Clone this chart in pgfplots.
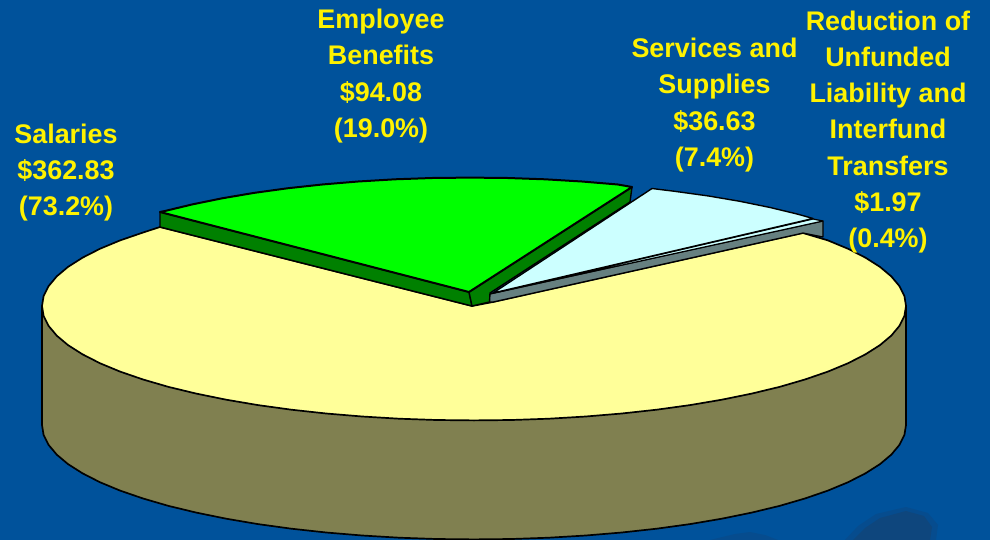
\documentclass[border=0pt]{standalone}
\usepackage{fontspec}
\setmainfont{Liberation Sans}
\usepackage{pgfplots}
\pgfplotsset{compat=1.18}
\definecolor{bg}{RGB}{0,82,155}
\definecolor{blobA}{RGB}{6,76,142}
\definecolor{blobB}{RGB}{14,70,125}
\definecolor{cYel}{RGB}{255,255,153}
\definecolor{cOli}{RGB}{128,128,80}
\definecolor{cGrn}{RGB}{0,255,0}
\definecolor{cDGr}{RGB}{0,128,0}
\definecolor{cBlu}{RGB}{204,255,255}
\definecolor{cGry}{RGB}{102,128,128}
\tikzset{lbl/.style={text=yellow,align=center,anchor=center,inner sep=0pt,
    font=\fontsize{26.9}{36.1}\selectfont\bfseries}}
\begin{document}
\begin{tikzpicture}
\begin{axis}[
  width=990pt,height=540pt,scale only axis,
  xmin=0,xmax=990,ymin=0,ymax=540,y dir=reverse,
  hide axis,clip=true,
  every axis plot/.append style={line join=round,mark=none},
]
% background
\addplot[fill=bg,draw=none] coordinates {(0,0)(990,0)(990,540)(0,540)} -- cycle;
\addplot[fill=blobA,draw=none] coordinates {(845,540)(858,526)(876,514)(906,507)(928,513)(938,525)(936,540)} -- cycle;
\addplot[fill=blobB,draw=none] coordinates {(853,540)(865,528)(880,518)(906,511)(924,516)(932,527)(930,540)} -- cycle;
\addplot[fill=blobA,draw=none] coordinates {(710,540)(735,534)(750,532)(765,535)(778,540)} -- cycle;
% side wall of the large slice
\addplot[fill=cOli,draw=black,line width=1.7pt] coordinates {
 (42,306)(42,425)(43.6,435)(48.6,444.9)(56.7,454.6)(68,464.1)(82.5,473.3)(99.9,482.2)(120.1,490.6)(143.1,498.5)(168.5,505.9)(196.3,512.6)(226.2,518.7)(258,524.1)(291.4,528.7)(326.2,532.5)(362.2,535.5)(399,537.7)(436.3,539)(474,539.4)(511.7,539)(549,537.7)(585.8,535.5)(621.8,532.5)(656.6,528.7)(690,524.1)(721.8,518.7)(751.7,512.6)(779.5,505.9)(804.9,498.5)(827.9,490.6)(848.1,482.2)(865.5,473.3)(880,464.1)(891.3,454.6)(899.4,444.9)(904.4,435)(906,425)(906,306)
} -- cycle;
% top of the large slice
\addplot[fill=cYel,draw=black,line width=1.7pt] coordinates {
 (827.9,240.4)(848.1,248.8)(865.5,257.7)(880,266.9)(891.3,276.4)(899.4,286.1)(904.4,296)(906,306)(904.4,316)(899.4,325.9)(891.3,335.6)(880,345.1)(865.5,354.3)(848.1,363.2)(827.9,371.6)(804.9,379.5)(779.5,386.9)(751.7,393.6)(721.8,399.7)(690,405.1)(656.6,409.7)(621.8,413.5)(585.8,416.5)(549,418.7)(511.7,420)(474,420.4)(436.3,420)(399,418.7)(362.2,416.5)(326.2,413.5)(291.4,409.7)(258,405.1)(226.2,399.7)(196.3,393.6)(168.5,386.9)(143.1,379.5)(120.1,371.6)(99.9,363.2)(82.5,354.3)(68,345.1)(56.7,335.6)(48.6,325.9)(43.6,316)(42,306)(43.6,296)(48.6,286.1)(56.7,276.4)(68,266.9)(82.5,257.7)(99.9,248.8)(120.1,240.4)(143.1,232.5)(160,227)(472,306)(493,302)(803,233)
} -- cycle;
% thin slice wall and top
\addplot[fill=cGry,draw=black,line width=1.2pt] coordinates {(489,294)(823,221)(823,237)(803,233)(493,302)(489,302)} -- cycle;
\addplot[fill=cBlu,draw=black,line width=1.2pt] coordinates {(490,294)(813,219)(823,221)} -- cycle;
% light blue slice
\addplot[fill=cBlu,draw=black,line width=1.4pt] coordinates {
 (493,293)(652,188.5)(674.6,191.3)(708,195.9)(739.8,201.3)(769.7,207.4)(797.5,214.1)(813,218.5)
} -- cycle;
% green walls and top
\addplot[fill=cDGr,draw=black,line width=1.4pt] coordinates {(160,212)(469,292)(472,306)(160,227)} -- cycle;
\addplot[fill=cDGr,draw=black,line width=1.4pt] coordinates {(469,292)(632,187)(630,202)(490,293)(489.5,302)(472,306)} -- cycle;
\addplot[fill=cGrn,draw=black,line width=2pt] coordinates {
 (160,212)(164.5,211.1)(192.3,204.4)(222.2,198.3)(254,192.9)(287.4,188.3)(322.2,184.5)(358.2,181.5)(395,179.3)(432.3,178)(470,177.6)(507.7,178)(545,179.3)(581.8,181.5)(617.8,184.5)(632,187)(469,292)
} -- cycle;
% labels
\node[lbl] at (axis cs:66,172.5) {Salaries\\\$362.83\\(73.2\%)};
\node[lbl] at (axis cs:381,76) {Employee\\Benefits\\\$94.08\\(19.0\%)};
\node[lbl] at (axis cs:714.5,105) {Services and\\Supplies\\\$36.63\\(7.4\%)};
\node[lbl] at (axis cs:888,132) {Reduction of\\Unfunded\\Liability and\\Interfund\\Transfers\\\$1.97\\(0.4\%)};
\end{axis}
\end{tikzpicture}
\end{document}
